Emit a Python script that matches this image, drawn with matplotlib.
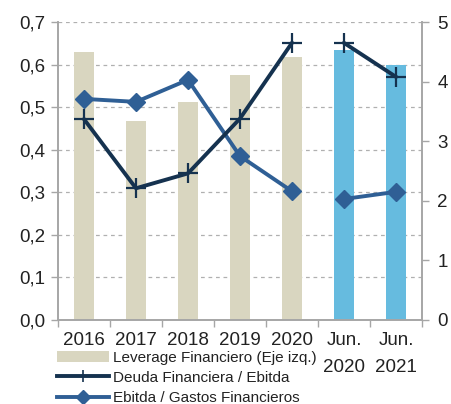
import matplotlib.pyplot as plt
import numpy as np
from matplotlib.patches import Patch
from matplotlib.lines import Line2D

plt.rcParams['font.family'] = ['Liberation Sans', 'DejaVu Sans']

# data
categories = ['2016', '2017', '2018', '2019', '2020', 'Jun.\n2020', 'Jun.\n2021']
leverage = [0.630, 0.467, 0.513, 0.575, 0.618, 0.635, 0.599]
deuda_ebitda = [3.37, 2.21, 2.46, 3.38, 4.65, 4.65, 4.08]
ebitda_gastos = [3.71, 3.66, 4.03, 2.75, 2.16, 2.03, 2.15]
bar_colors = ['#D9D6C0'] * 5 + ['#66BBDF'] * 2

BEIGE = '#D9D6C0'
NAVY = '#15324F'
BLUE = '#2F5F95'
GREY = '#A6A6A6'

fig = plt.figure(figsize=(4.51, 4.04), dpi=100)
ax = fig.add_axes([0.1286, 0.208, 0.807, 0.7375])
ax2 = ax.twinx()

x = np.arange(len(categories))
ax.bar(x, leverage, width=0.4, color=bar_colors, zorder=2)

# lines on the right axis (annual and semester series drawn separately)
for seg in (slice(0, 5), slice(5, 7)):
    ax2.plot(x[seg], ebitda_gastos[seg], color=BLUE, lw=2.8, marker='D',
             ms=9, zorder=3)
    ax2.plot(x[seg], deuda_ebitda[seg], color=NAVY, lw=2.8, marker='+',
             ms=14, mew=1.6, zorder=4)

ax.set_xlim(-0.5, len(categories) - 0.5)
ax.set_ylim(0, 0.7)
ax2.set_ylim(0, 5)
ax.set_yticks(np.arange(0, 0.71, 0.1))
ax.set_yticklabels([f'{v:.1f}'.replace('.', ',') for v in np.arange(0, 0.71, 0.1)])
ax2.set_yticks(range(6))

ax.yaxis.grid(True, ls=(0, (3, 3)), color='#B0B0B0', lw=0.9, zorder=0)
ax.set_axisbelow(True)

ax.set_xticks(x)
ax.set_xticklabels(categories, linespacing=1.75)
ax.set_xticks(np.arange(-0.5, len(categories), 1), minor=True)
ax.tick_params(axis='x', which='major', length=0, pad=9, labelsize=13.5, colors='#222222')
ax.tick_params(axis='x', which='minor', length=5, color=GREY, width=1)
ax.tick_params(axis='y', length=5, color=GREY, width=1, labelsize=13.5, labelcolor='#222222', pad=4)
ax2.tick_params(axis='y', length=5, color=GREY, width=1, labelsize=13.5, labelcolor='#222222', pad=6)

for a in (ax, ax2):
    a.spines['top'].set_visible(False)
    for s in ('left', 'right', 'bottom'):
        a.spines[s].set_color(GREY)
        a.spines[s].set_linewidth(1.2)

handles = [
    Patch(facecolor=BEIGE, edgecolor='none'),
    Line2D([], [], color=NAVY, lw=2.8, marker='|', ms=8, mew=1.2),
    Line2D([], [], color=BLUE, lw=2.8, marker='D', ms=7),
]
labels = ['Leverage Financiero (Eje izq.)', 'Deuda Financiera / Ebitda',
          'Ebitda / Gastos Financieros']
fig.legend(handles, labels, loc='upper left', bbox_to_anchor=(0.126, 0.132),
           frameon=False, fontsize=11, handlelength=3.4, handleheight=0.7,
           handletextpad=0.3, labelspacing=0.4, borderpad=0, borderaxespad=0,
           labelcolor='#222222')

plt.savefig('out.png', dpi=100)
